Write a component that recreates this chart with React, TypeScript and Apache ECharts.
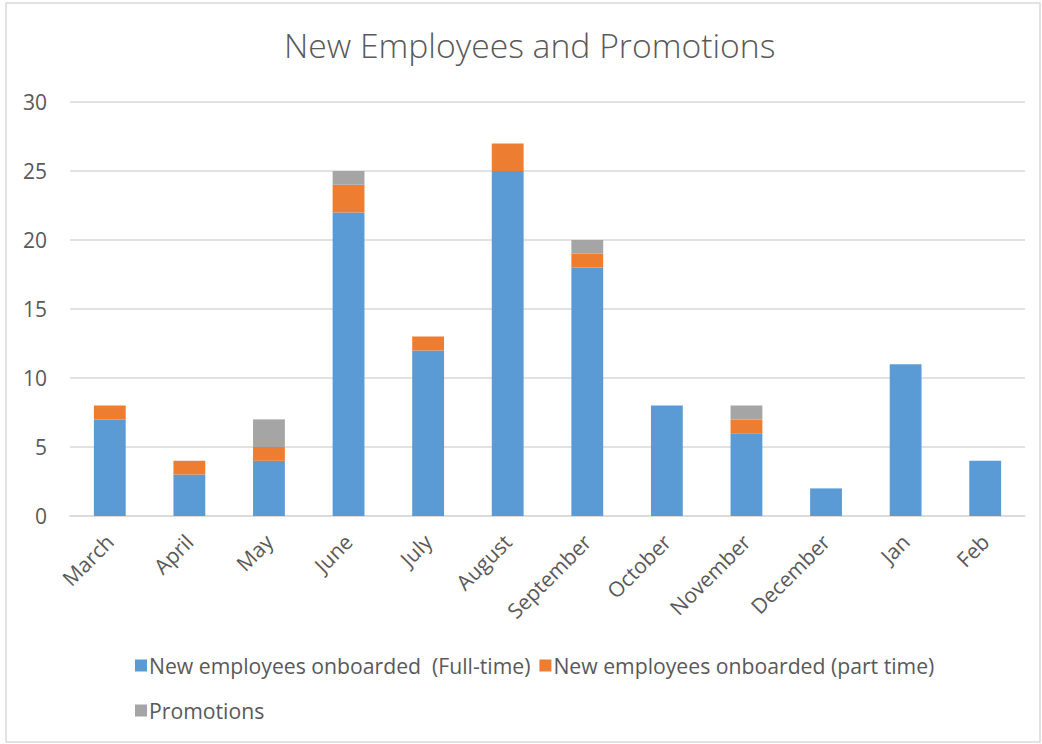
import React, { useEffect, useRef } from "react";
import * as echarts from "echarts";

const categories = ["March", "April", "May", "June", "July", "August", "September", "October", "November", "December", "Jan", "Feb"];
const fullTime = [7, 3, 4, 22, 12, 25, 18, 8, 6, 2, 11, 4];
const partTime = [1, 1, 1, 2, 1, 2, 1, 0, 1, 0, 0, 0];
const promotions = [0, 0, 2, 1, 0, 0, 1, 0, 1, 0, 0, 0];
const seriesNames = ["New employees onboarded  (Full-time)", "New employees onboarded (part time)", "Promotions"];
const yTicks = { min: 0, max: 30, interval: 5 };

const FONT = "'Open Sans', 'Noto Sans', sans-serif";
const TEXT = "#595959";

export default function App() {
  const ref = useRef<HTMLDivElement>(null);
  useEffect(() => {
    if (!ref.current) return;
    const chart = echarts.init(ref.current, null, { renderer: "svg" });
    const mk = (name: string, data: number[], color: string) => ({
      name,
      type: "bar",
      stack: "total",
      data: data.map((v) => (v === 0 ? null : v)),
      barWidth: "40%",
      itemStyle: { color },
    });
    chart.setOption({
      animation: false,
      backgroundColor: "#fff",
      textStyle: { fontFamily: FONT },
      title: {
        text: "New Employees and Promotions",
        left: 279,
        top: 23,
        textStyle: { fontFamily: FONT, fontSize: 33.7, fontWeight: 300, color: TEXT },
      },
      grid: { left: 70, right: 17, top: 102, bottom: 228, containLabel: false },
      legend: [
        {
          data: [seriesNames[0], seriesNames[1]],
          left: 130,
          top: 650,
          itemWidth: 12,
          itemHeight: 12,
          itemGap: 9,
          icon: "rect",
          textStyle: { fontFamily: FONT, fontSize: 21.2, color: TEXT, padding: [0, 0, 0, -3] },
        },
        {
          data: [seriesNames[2]],
          left: 130,
          top: 695,
          itemWidth: 12,
          itemHeight: 12,
          icon: "rect",
          textStyle: { fontFamily: FONT, fontSize: 21.2, color: TEXT, padding: [0, 0, 0, -3] },
        },
      ],
      xAxis: {
        type: "category",
        data: categories,
        axisLine: { lineStyle: { color: "#d9d9d9", width: 1.5 } },
        axisTick: { show: false },
        axisLabel: { rotate: 45, fontSize: 21, color: TEXT, margin: 22, interval: 0, fontFamily: FONT },
      },
      yAxis: {
        type: "value",
        min: yTicks.min,
        max: yTicks.max,
        interval: yTicks.interval,
        axisLine: { show: false },
        axisTick: { show: false },
        splitLine: { lineStyle: { color: "#d9d9d9", width: 1.5 } },
        axisLabel: { fontSize: 21, color: TEXT, margin: 23, fontFamily: FONT },
      },
      graphic: [
        {
          type: "rect",
          shape: { x: 6, y: 3, width: 1034, height: 739 },
          style: { fill: "none", stroke: "#d9d9d9", lineWidth: 1.5 },
          silent: true,
        },
      ],
      series: [
        mk(seriesNames[0], fullTime, "#5B9BD5"),
        mk(seriesNames[1], partTime, "#ED7D31"),
        mk(seriesNames[2], promotions, "#A5A5A5"),
      ],
    });
    return () => chart.dispose();
  }, []);
  return <div ref={ref} style={{ position: "fixed", left: 0, top: 0, width: 1042, height: 744 }} />;
}
